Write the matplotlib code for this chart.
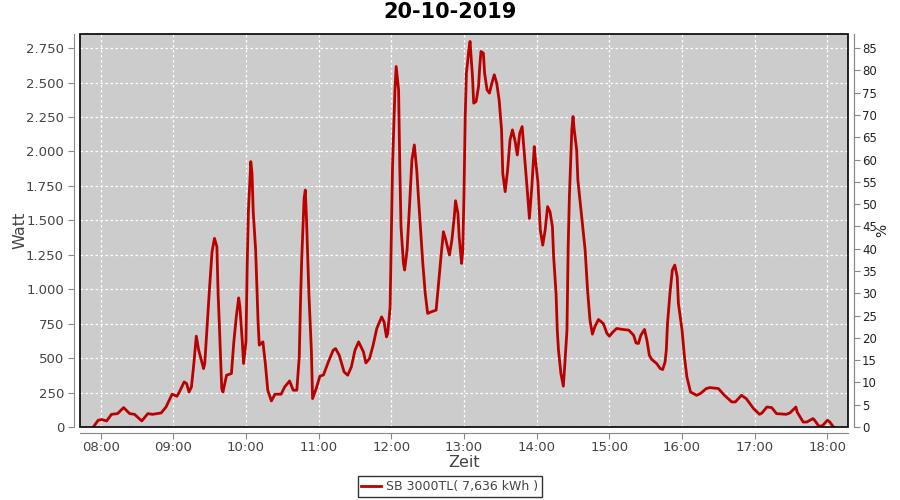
import matplotlib
matplotlib.use('Agg')
import matplotlib.pyplot as plt
import matplotlib.dates as mdates
from matplotlib.patches import Rectangle
from matplotlib.ticker import FuncFormatter, MultipleLocator
import pandas as pd


title = '20-10-2019'
series_name = 'SB 3000TL( 7,636 kWh )'

# readings (time, watt)
times = ['07:54', '07:58', '08:01', '08:05', '08:09', '08:14', '08:19', '08:24', '08:28', '08:34',
         '08:39', '08:43', '08:50', '08:54', '08:59', '09:03', '09:05', '09:09', '09:11', '09:13',
         '09:15', '09:17', '09:19', '09:21', '09:25', '09:26', '09:28', '09:30', '09:32', '09:34',
         '09:36', '09:37', '09:38', '09:40', '09:41', '09:44', '09:48', '09:50', '09:52', '09:54',
         '09:55', '09:57', '09:58', '10:00', '10:01', '10:02', '10:04', '10:05', '10:06', '10:08',
         '10:10', '10:11', '10:14', '10:16', '10:18', '10:21', '10:24', '10:29', '10:32', '10:36',
         '10:39', '10:42', '10:44', '10:45', '10:46', '10:48', '10:49', '10:50', '10:52', '10:54',
         '10:55', '10:58', '11:01', '11:04', '11:08', '11:12', '11:14', '11:17', '11:21', '11:24',
         '11:27', '11:30', '11:33', '11:37', '11:39', '11:42', '11:45', '11:48', '11:52', '11:54',
         '11:56', '11:57', '11:59', '12:00', '12:01', '12:03', '12:04', '12:06', '12:07', '12:08',
         '12:10', '12:11', '12:13', '12:15', '12:17', '12:19', '12:21', '12:22', '12:24', '12:26',
         '12:28', '12:30', '12:33', '12:37', '12:39', '12:41', '12:43', '12:45', '12:48', '12:50',
         '12:52', '12:53', '12:55', '12:56', '12:58', '12:59', '13:00', '13:01', '13:02', '13:04',
         '13:05', '13:07', '13:08', '13:10', '13:12', '13:13', '13:14', '13:16', '13:17', '13:19',
         '13:21', '13:23', '13:25', '13:27', '13:29', '13:31', '13:32', '13:34', '13:36', '13:38',
         '13:40', '13:42', '13:44', '13:46', '13:48', '13:50', '13:52', '13:54', '13:56', '13:58',
         '13:59', '14:01', '14:03', '14:05', '14:07', '14:09', '14:11', '14:13', '14:14', '14:16',
         '14:17', '14:18', '14:20', '14:22', '14:23', '14:25', '14:26', '14:27', '14:29', '14:30',
         '14:31', '14:33', '14:34', '14:36', '14:38', '14:40', '14:42', '14:44', '14:46', '14:48',
         '14:51', '14:55', '14:58', '15:00', '15:03', '15:06', '15:11', '15:16', '15:20', '15:22',
         '15:24', '15:26', '15:29', '15:31', '15:33', '15:35', '15:39', '15:42', '15:44', '15:46',
         '15:47', '15:48', '15:50', '15:52', '15:54', '15:56', '15:57', '16:00', '16:02', '16:04',
         '16:07', '16:12', '16:15', '16:20', '16:23', '16:30', '16:35', '16:41', '16:44', '16:49',
         '16:53', '16:59', '17:04', '17:06', '17:10', '17:14', '17:18', '17:26', '17:29', '17:34',
         '17:35', '17:40', '17:43', '17:48', '17:49', '17:53', '17:56', '18:00', '18:02', '18:05']
watt = [0, 49, 54, 44, 92, 97, 141, 97, 92, 44,
        97, 92, 102, 145, 238, 223, 254, 327, 315, 254,
        291, 461, 659, 557, 424, 461, 739, 1017, 1272, 1369,
        1308, 969, 751, 279, 254, 376, 388, 618, 799, 937,
        872, 618, 461, 618, 1163, 1562, 1926, 1841, 1562, 1284,
        763, 594, 618, 461, 267, 189, 238, 238, 291, 334,
        267, 267, 509, 897, 1211, 1660, 1720, 1502, 957, 557,
        206, 279, 368, 378, 472, 557, 569, 521, 400, 376,
        436, 557, 618, 545, 465, 497, 594, 715, 799, 763,
        654, 678, 872, 1381, 1889, 2447, 2616, 2447, 1889, 1453,
        1187, 1139, 1284, 1599, 1938, 2047, 1865, 1720, 1453, 1187,
        969, 824, 836, 848, 1042, 1235, 1417, 1357, 1248, 1357,
        1526, 1642, 1550, 1381, 1187, 1284, 1696, 2253, 2568, 2737,
        2798, 2543, 2350, 2362, 2471, 2616, 2725, 2713, 2568, 2447,
        2423, 2495, 2556, 2495, 2374, 2156, 1841, 1708, 1865, 2083,
        2156, 2083, 1974, 2132, 2180, 1962, 1744, 1514, 1744, 2035,
        1938, 1780, 1429, 1320, 1429, 1599, 1562, 1453, 1235, 969,
        703, 557, 388, 296, 424, 703, 1308, 1671, 2156, 2253,
        2156, 2011, 1793, 1623, 1453, 1284, 993, 775, 674, 727,
        780, 751, 679, 659, 690, 715, 708, 703, 666, 610,
        606, 666, 708, 630, 521, 490, 461, 424, 417, 472,
        557, 751, 969, 1139, 1175, 1090, 897, 703, 509, 363,
        254, 230, 242, 279, 286, 279, 230, 182, 182, 230,
        206, 134, 92, 102, 145, 141, 97, 92, 102, 145,
        109, 36, 36, 61, 54, 5, 10, 49, 36, 0]

# right axis scale: 2750 W corresponds to 85 %
watt_max = 2852
pct_per_watt = 85 / 2750

t = pd.to_datetime(['2019-10-20 ' + s for s in times])

fig = plt.figure(figsize=(9, 5), dpi=100)
ax = fig.add_axes([80 / 900, 73 / 500, 768 / 900, 393 / 500])
ax.set_facecolor('#cccccc')

ax.plot(t, watt, color='#bb0000', lw=2, label=series_name, zorder=3)

ax.set_xlim(pd.Timestamp('2019-10-20 07:43'), pd.Timestamp('2019-10-20 18:17'))
ax.set_ylim(0, watt_max)
ax.xaxis.set_major_locator(mdates.HourLocator())
ax.xaxis.set_major_formatter(mdates.DateFormatter('%H:%M'))
ax.yaxis.set_major_locator(MultipleLocator(250))
ax.yaxis.set_major_formatter(FuncFormatter(lambda v, p: f'{v:,.0f}'.replace(',', '.')))

ax.grid(True, color='white', lw=0.9, ls=(0, (2, 2)))
ax.set_axisbelow(True)

gray = '#888888'
for side in ['left', 'bottom', 'right']:
    ax.spines[side].set_position(('outward', 4))
    ax.spines[side].set_color(gray)
ax.spines['top'].set_visible(False)
ax.add_patch(Rectangle((0, 0), 1, 1, transform=ax.transAxes, fill=False,
                       ec='black', lw=1.2, clip_on=False, zorder=5))

ax.tick_params(direction='out', length=4, color=gray, labelsize=9.5, labelcolor='#444444')
ax.tick_params(axis='x', pad=2)
ax.set_xlabel('Zeit', fontsize=11.5, color='#444444')
ax.set_ylabel('Watt', fontsize=11.5, color='#444444')
ax.xaxis.set_label_coords(0.5, -0.07)
ax.yaxis.set_label_coords(-0.068, 0.5)

ax2 = ax.twinx()
ax2.set_ylim(0, watt_max * pct_per_watt)
ax2.yaxis.set_major_locator(MultipleLocator(5))
ax2.spines['right'].set_position(('outward', 4))
ax2.spines['right'].set_color(gray)
for side in ['left', 'top', 'bottom']:
    ax2.spines[side].set_visible(False)
ax2.tick_params(direction='out', length=4, pad=2, color=gray, labelsize=8.5, labelcolor='#222222')
ax2.set_ylabel('%', fontsize=10, color='#222222')
ax2.yaxis.set_label_coords(1.036, 0.5)

fig.suptitle(title, fontsize=15, fontweight='bold', y=0.995)

leg = fig.legend(loc='lower center', bbox_to_anchor=(0.5, -0.006), fontsize=9,
                 frameon=True, fancybox=False, handlelength=1.6, borderpad=0.3,
                 handletextpad=0.4)
leg.get_frame().set_edgecolor('black')
leg.get_frame().set_linewidth(1)
for txt in leg.get_texts():
    txt.set_color('#444444')

fig.savefig('out.png', dpi=100)
